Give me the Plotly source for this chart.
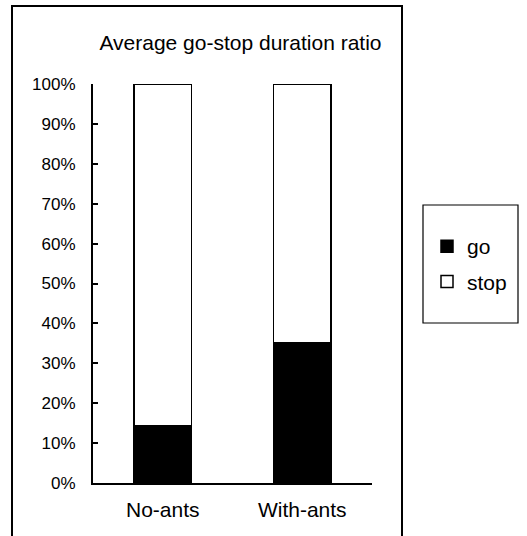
import plotly.graph_objects as go

categories = ["No-ants", "With-ants"]
go_pct = [14.3, 35.1]
stop_pct = [85.7, 64.9]
series_names = ["go", "stop"]
y_ticks = list(range(0, 101, 10))
y_tick_labels = [f"{v}%" for v in y_ticks]
title_text = "Average go-stop duration ratio"

FONT = "Liberation Sans, Arial, sans-serif"

fig = go.Figure()
fig.add_trace(go.Bar(
    x=categories, y=go_pct, name=series_names[0], legendgroup="g1",
    marker=dict(color="black", line=dict(color="black", width=1.5)),
))
fig.add_trace(go.Bar(
    x=categories, y=stop_pct, name=series_names[1], legendgroup="g2",
    marker=dict(color="white", line=dict(color="black", width=1.5)),
))

L, R, T, B = 93, 372, 84, 483
W, H = 527, 536
pw, ph = R - L, B - T

def px(x):
    return (x - L) / pw

def py(y):
    return (B - y) / ph

fig.update_layout(
    width=W, height=H,
    margin=dict(l=L, r=W - R, t=T, b=H - B),
    barmode="stack", bargap=0.585,
    paper_bgcolor="white", plot_bgcolor="white",
    font=dict(family=FONT, color="black", size=18),
    title=dict(text=title_text, x=240.5 / W, xanchor="center",
               y=1 - 43 / H, yanchor="middle", yref="container",
               font=dict(size=21, family=FONT, color="black")),
    showlegend=True,
    legend=dict(x=px(427), y=py(264), xanchor="left", yanchor="middle",
                traceorder="grouped", tracegroupgap=5,
                font=dict(size=21, family=FONT, color="black"),
                bgcolor="rgba(0,0,0,0)", borderwidth=0,
                itemwidth=30),
    shapes=[
        dict(type="rect", xref="paper", yref="paper",
             x0=px(12), x1=px(402), y0=py(545), y1=py(6),
             line=dict(color="black", width=2), fillcolor="rgba(0,0,0,0)",
             layer="below"),
        dict(type="rect", xref="paper", yref="paper",
             x0=px(423), x1=px(518), y0=py(323), y1=py(205),
             line=dict(color="black", width=1.2), fillcolor="rgba(0,0,0,0)"),
    ],
)

fig.update_xaxes(showline=True, linecolor="black", linewidth=2, ticks="",
                 showgrid=False, zeroline=False,
                 tickfont=dict(size=21, family=FONT, color="black"),
                 ticklabelstandoff=7)
fig.update_yaxes(range=[0, 100], tickvals=y_ticks, ticktext=y_tick_labels,
                 showline=True, linecolor="black", linewidth=2,
                 ticks="inside", ticklen=5, tickwidth=1.5, tickcolor="black",
                 showgrid=False, zeroline=False,
                 tickfont=dict(size=17, family=FONT, color="black"),
                 ticklabelstandoff=12)

fig.write_html("out.html")
